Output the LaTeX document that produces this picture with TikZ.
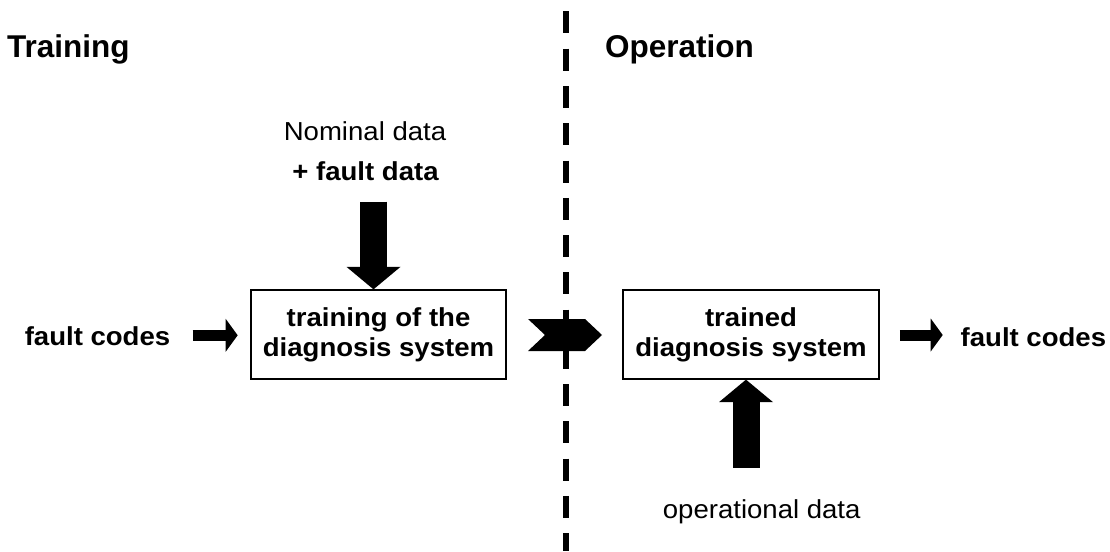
\documentclass[tikz,border=0pt]{standalone}
\usepackage{fontspec}
\setmainfont{Liberation Sans}
\newfontfamily\bodyfont[FakeStretch=1.06]{Liberation Sans}
\usetikzlibrary{arrows.meta,calc}

\tikzset{
  title/.style={font=\fontsize{31.5}{36}\selectfont\bfseries, inner sep=0pt, anchor=base west},
  lbl/.style={font=\bodyfont\fontsize{26}{30}\selectfont, inner sep=0pt, anchor=base},
  blbl/.style={lbl, font=\bodyfont\fontsize{26}{30}\selectfont\bfseries},
  stagebox/.style={draw, line width=1.3pt, minimum height=89pt, inner sep=0pt,
    align=center, font=\bodyfont\fontsize{26}{30}\selectfont\bfseries},
  bigarrow/.style={line width=27pt, -{Triangle[width=54pt,length=22.5pt,line width=0pt]}},
  smallarrow/.style={line width=11pt, -{Triangle[width=33pt,length=12pt,line width=0pt]}},
  divider/.style={line width=6.3pt, dash pattern=on 22pt off 15.25pt}
}

\begin{document}
\begin{tikzpicture}[x=1pt, y=-1pt]
  \useasboundingbox (0,0) rectangle (1110,551);

  % phase headings
  \node[title] (htrain) at (7,57.3) {Training};
  \node[title] (hop) at (605,57.3) {Operation};

  % boundary between the two phases
  \coordinate (divtop) at (566,11.5);
  \coordinate (divbot) at (566,551);
  \draw[divider] (divtop) -- (divbot);

  % processing stages
  \node[stagebox, minimum width=255pt] (train) at (378.5,334.5) {training of the\\diagnosis system};
  \node[stagebox, minimum width=256pt] (trained) at (751,334.5) {trained\\diagnosis system};

  % inputs and outputs
  \node[lbl] (nominal) at (365,140.7) {Nominal data};
  \node[blbl] (faultdata) at (365.5,180.7) {+ fault data};
  \node[blbl] (codesin) at (97.5,345) {fault codes};
  \node[blbl] (codesout) at (1033.4,346) {fault codes};
  \node[lbl] (opdata) at (761.7,518.3) {operational data};

  % block arrows
  \coordinate (datain) at (373.5,201.7);
  \draw[bigarrow] (datain) -- (datain |- train.north);

  \coordinate (opin) at (746,467.7);
  \draw[bigarrow] (opin) -- (opin |- trained.south);

  \coordinate (codesstart) at (192.7,335.3);
  \draw[smallarrow, shorten >=12.7pt] (codesstart) -- (codesstart -| train.west);

  \coordinate (codesend) at (942.7,335);
  \draw[smallarrow, shorten <=20.3pt] (codesend -| trained.east) -- (codesend);

  % hand-over from training to operation
  \fill (528,319) -- (585,319) -- (602,335) -- (585,351) -- (528,351) -- (545,335) -- cycle;
\end{tikzpicture}
\end{document}
